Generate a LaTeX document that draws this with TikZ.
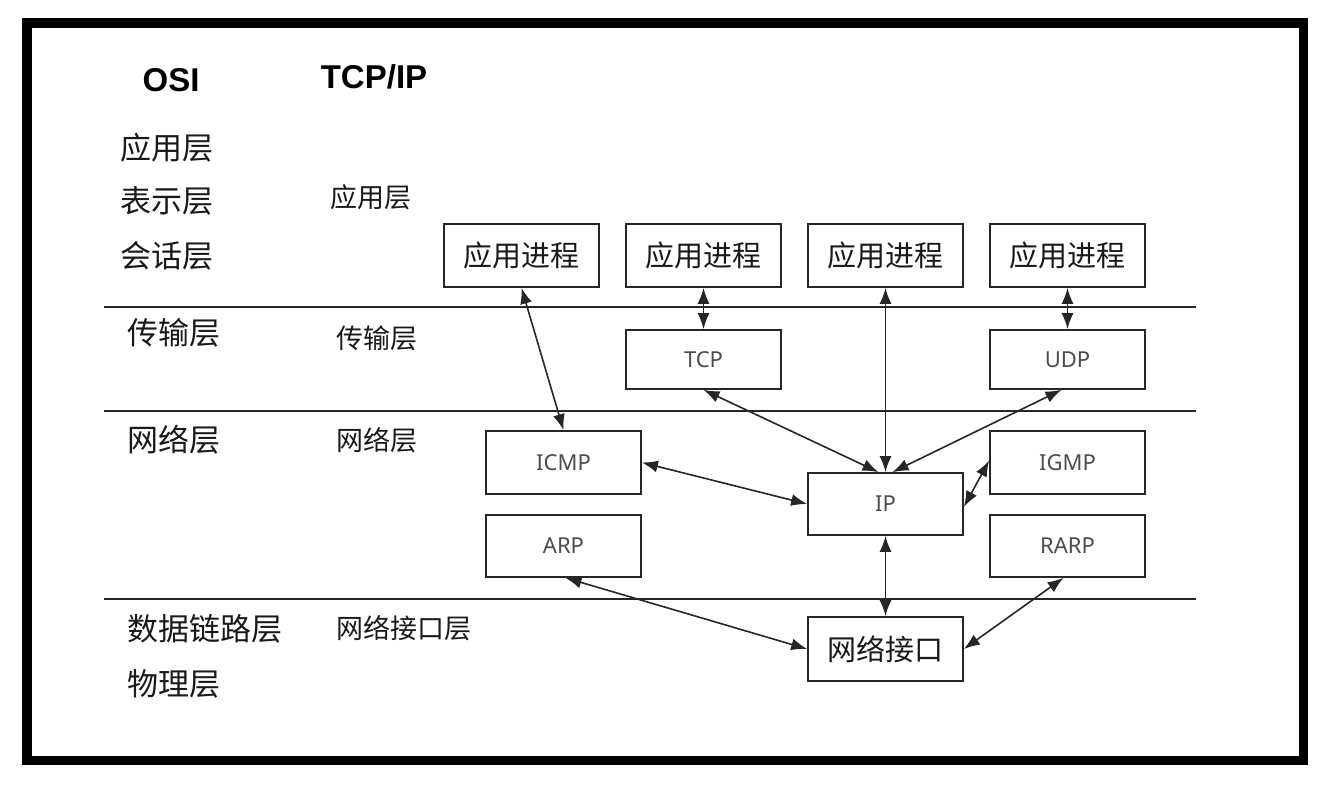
\documentclass[tikz,border=0pt]{standalone}
\usepackage{fontspec}
\setmainfont{Noto Sans CJK SC}
\newfontfamily\latinfont{Noto Sans}
\newfontfamily\headfont{Liberation Sans}
\usetikzlibrary{arrows.meta}
\begin{document}
\begin{tikzpicture}[x=1pt,y=-1pt,
  box/.style={draw=black!85,line width=1.7pt,minimum width=155pt,inner sep=0pt,fill=white},
  proc/.style={box,minimum height=63pt,font=\fontsize{29}{30}\selectfont,text=black!90},
  proto/.style={box,font=\latinfont\fontsize{22}{24}\selectfont,text=black!70},
  osi/.style={anchor=west,inner sep=0pt,font=\fontsize{31}{32}\selectfont,text=black!90},
  tcpip/.style={anchor=west,inner sep=0pt,font=\fontsize{27}{28}\selectfont,text=black!90},
  head/.style={inner sep=0pt,font=\headfont\bfseries\fontsize{33}{35}\selectfont},
  tip/.tip={Latex[length=16pt,width=12pt]},
  link/.style={line width=1.6pt,black!85,tip-tip},
  sep/.style={line width=1.8pt,black!85}]
\useasboundingbox (0,0) rectangle (1338,786);
% outer frame
\draw[line width=9.5pt] (27,23) rectangle (1303.5,760.5);
% layer separators
\draw[sep] (104,307) -- (1196,307);
\draw[sep] (104,411) -- (1196,411);
\draw[sep] (104,599) -- (1196,599);
% column headings
\node[head] (hosi) at (171,80) {OSI};
\node[head] (htcp) at (374,77) {TCP/IP};
% OSI layers
\node[osi] (o1) at (120,148) {应用层};
\node[osi] (o2) at (120,201) {表示层};
\node[osi] (o3) at (120,256) {会话层};
\node[osi] (o4) at (127,333) {传输层};
\node[osi] (o5) at (127,440) {网络层};
\node[osi] (o6) at (127,629) {数据链路层};
\node[osi] (o7) at (127,684) {物理层};
% TCP/IP layers
\node[tcpip] (t1) at (330,197) {应用层};
\node[tcpip] (t2) at (336,338) {传输层};
\node[tcpip] (t3) at (336,440) {网络层};
\node[tcpip] (t4) at (336,628) {网络接口层};
% application processes
\node[proc] (a1) at (521.5,255.5) {应用进程};
\node[proc] (a2) at (703.5,255.5) {应用进程};
\node[proc] (a3) at (885.5,255.5) {应用进程};
\node[proc] (a4) at (1067.5,255.5) {应用进程};
% transport
\node[proto,minimum height=59pt] (tcp) at (703.5,359.5) {TCP};
\node[proto,minimum height=59pt] (udp) at (1067.5,359.5) {UDP};
% network
\node[proto,minimum height=63pt] (icmp) at (563.5,462.5) {ICMP};
\node[proto,minimum height=63pt] (igmp) at (1067.5,462.5) {IGMP};
\node[proto,minimum height=62pt] (ip) at (885.5,504) {IP};
\node[proto,minimum height=62pt] (arp) at (563.5,546) {ARP};
\node[proto,minimum height=62pt] (rarp) at (1067.5,546) {RARP};
% network interface
\node[proc,minimum height=64pt] (ni) at (885.5,649) {网络接口};
% connectors
\draw[link] (a1.south) -- (icmp.north);
\draw[link] (a2.south) -- (tcp.north);
\draw[link] (a3.south) -- (ip.north);
\draw[link] (a4.south) -- (udp.north);
\draw[link] (tcp.south) -- ([xshift=-7pt]ip.north);
\draw[link] ([xshift=-6pt]udp.south) -- ([xshift=7pt]ip.north);
\draw[link] (icmp.east) -- (ip.west);
\draw[link] ([yshift=2pt]igmp.west) -- ([yshift=-3pt]ip.east);
\draw[link] (ip.south) -- (ni.north);
\draw[link] ([xshift=2pt]arp.south) -- (ni.west);
\draw[link] ([xshift=-4pt]rarp.south) -- (ni.east);
\end{tikzpicture}
\end{document}
